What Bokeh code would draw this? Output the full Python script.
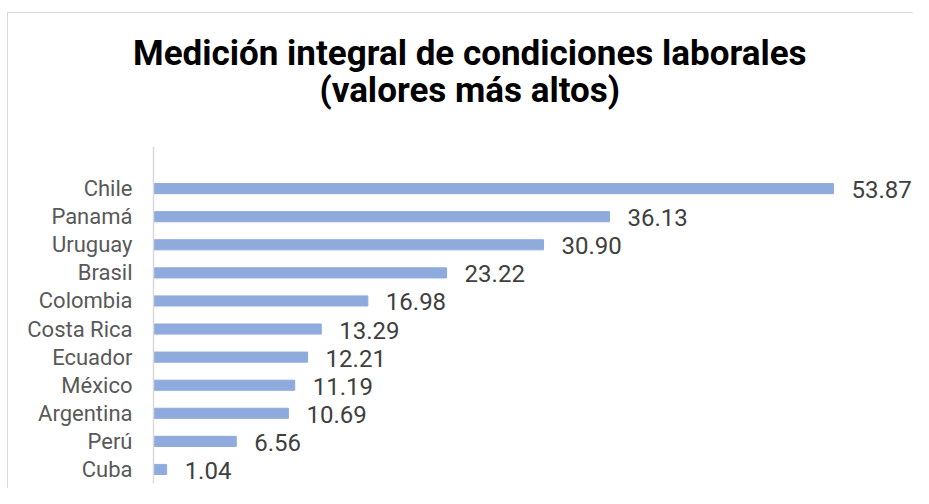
from bokeh.plotting import figure
from bokeh.models import Range1d, FixedTicker, ColumnDataSource, Div
from bokeh.layouts import column
from bokeh.core.properties import value
from bokeh.embed import file_html
from bokeh.resources import INLINE

countries = ["Chile", "Panamá", "Uruguay", "Brasil", "Colombia", "Costa Rica",
             "Ecuador", "México", "Argentina", "Perú", "Cuba"]
values = [53.87, 36.13, 30.90, 23.22, 16.98, 13.29, 12.21, 11.19, 10.69, 6.56, 1.04]
value_labels = ["53.87", "36.13", "30.90", "23.22", "16.98", "13.29",
                "12.21", "11.19", "10.69", "6.56", "1.04"]
title_lines = ["Medición integral de condiciones laborales", "(valores más altos)"]

n = len(countries)
pos = [n - 1 - i for i in range(n)]
src = ColumnDataSource(dict(y=pos, v=values, lab=value_labels, name=countries))

W = 905
HD = 120
HF = 355

title = Div(
    text=('<div style="padding-top:22px;text-align:center;font-family:Roboto;'
          'font-weight:bold;font-size:35px;line-height:37px;color:#000000;'
          'position:relative;left:125px;white-space:nowrap">'
          + "<br>".join(title_lines) + "</div>"),
    width=W, height=HD, margin=0)

p = figure(width=W, height=HF, output_backend="svg", toolbar_location=None,
           x_range=Range1d(0, 60.21), y_range=Range1d(-0.5, n + 0.5),
           min_border_left=145, min_border_right=0, min_border_top=13,
           min_border_bottom=5)

p.hbar(y="y", right="v", left=0, height=0.36, color="#8FAADC", source=src)
p.text(x="v", y="y", text="lab", x_offset=18, y_offset=1, text_baseline="middle",
       text_align="left", text_font=value("Roboto"), text_font_size="24px",
       text_color="#404040", source=src)

p.xaxis.visible = False
p.xgrid.visible = False
p.ygrid.visible = False
p.outline_line_color = None
ya = p.yaxis[0]
ya.ticker = FixedTicker(ticks=pos)
ya.major_label_overrides = {pp: c for pp, c in zip(pos, countries)}
ya.major_tick_line_color = None
ya.minor_tick_line_color = None
ya.major_tick_out = 0
ya.major_tick_in = 0
ya.major_label_standoff = 21
ya.major_label_text_font = "Roboto"
ya.major_label_text_font_size = "22px"
ya.major_label_text_color = "#595959"
ya.axis_line_color = "#d9d9d9"
ya.axis_line_width = 1.5

layout = column(title, p, spacing=0)
layout.styles = {"margin-top": "12px", "margin-left": "7px",
                 "border-top": "1px solid #d9d9d9",
                 "border-left": "1px solid #d9d9d9"}

open("out.html", "w").write(file_html(layout, INLINE))
